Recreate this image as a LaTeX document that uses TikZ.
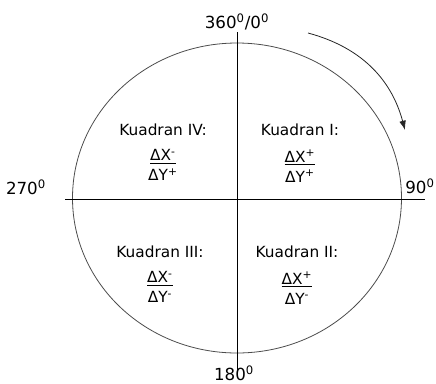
\documentclass[tikz,border=0pt]{standalone}
\usepackage{fontspec}
\setmainfont{DejaVu Sans}
\usetikzlibrary{arrows.meta,positioning}

\newcommand{\dlt}[2]{\underline{ΔX\textsuperscript{#1}}\\ΔY\textsuperscript{#2}}

\begin{document}
\begin{tikzpicture}[x=0.75pt,y=-0.75pt,
  deg/.style={font=\fontsize{12.5}{14}\selectfont, inner sep=0pt},
  kuad/.style={font=\fontsize{11.5}{13}\selectfont, inner sep=0pt},
  frak/.style={font=\fontsize{11.5}{15}\selectfont, inner sep=0pt, align=center}]
  \useasboundingbox (0,0) rectangle (436,383);
  % circle of bearings
  \coordinate (O) at (237,198);
  \draw[line width=0.6pt, black!70] (O) ellipse [x radius=164.5, y radius=155];
  % axes
  \coordinate (top) at (237,32);
  \coordinate (bot) at (237,373);
  \coordinate (lft) at (65,199);
  \coordinate (rgt) at (425,199);
  \draw[line width=0.65pt] (top) -- (bot);
  \draw[line width=0.65pt] (lft) -- (rgt);
  % angle labels
  \node[deg] (n0) at (237,22) {360\textsuperscript{0}/0\textsuperscript{0}};
  \node[deg] (n270) at (26,187) {270\textsuperscript{0}};
  \node[deg] (n90) at (420,186) {90\textsuperscript{0}};
  \node[deg] (n180) at (234,373) {180\textsuperscript{0}};
  % quadrants
  \node[kuad] (k1) at (300,130) {Kuadran I:};
  \node[frak, below=10pt of k1] (f1) {\dlt{+}{+}};
  \node[kuad] (k2) at (297,252) {Kuadran II:};
  \node[frak, below=10pt of k2] (f2) {\dlt{+}{-}};
  \node[kuad] (k3) at (160,252) {Kuadran III:};
  \node[frak, below=10pt of k3] (f3) {\dlt{-}{-}};
  \node[kuad] (k4) at (163,130) {Kuadran IV:};
  \node[frak, below=10pt of k4] (f4) {\dlt{-}{+}};
  % direction of rotation
  \coordinate (a1) at (308,33);
  \coordinate (a2) at (405,130);
  \draw[-{Latex[length=7pt,width=5pt]}, line width=0.6pt, black!85] (a1) to[bend left=30] (a2);
\end{tikzpicture}
\end{document}
